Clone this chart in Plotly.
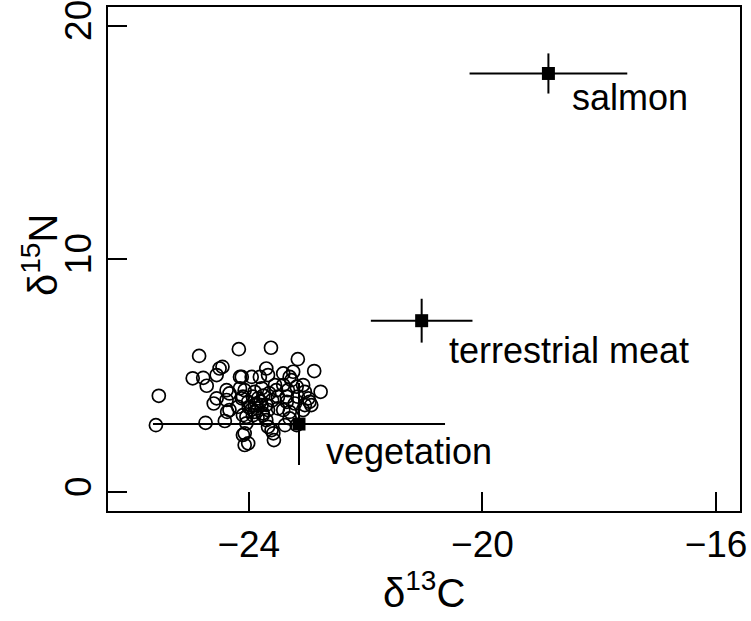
import plotly.graph_objects as go

# Individual consumer isotope values (delta 13C, delta 15N)
consumer_d13c = [
    -24.85, -24.17, -25.54, -25.59, -24.74, -24.96, -24.78, -24.72, -24.55, -24.50,
    -24.45, -24.55, -24.60, -24.38, -24.37, -24.41, -24.15, -24.10, -24.07,
    -23.62, -23.16, -22.88, -22.77, -22.93, -24.12, -23.95, -23.70, -23.67, -23.41,
    -23.24, -23.27, -23.07, -23.04, -23.33, -23.16, -23.21, -23.35, -23.50, -23.50,
    -23.67, -23.84, -23.90, -24.01, -24.12, -24.18, -24.10, -23.93, -23.76, -24.04,
    -24.07, -24.01, -23.67, -23.61, -23.58, -23.57, -23.38, -23.04, -23.30, -22.98,
    -23.41, -23.55, -23.78, -23.90, -24.07, -23.78,
    -23.30, -23.41, -22.96, -23.07, -24.33, -23.87, -23.93, -24.10, -23.76, -24.04,
    -24.15, -23.53, -23.35, -24.33, -24.38, -23.18, -23.81, -23.70, -23.30, -23.18,
    -23.85, -23.95, -23.80, -23.70, -23.90, -23.75, -23.60, -23.65, -24.00, -23.85,
]
consumer_d15n = [
    5.85, 6.14, 4.14, 2.88, 2.98, 4.89, 4.91, 4.57, 5.03, 5.31,
    5.38, 4.03, 3.81, 4.38, 3.45, 3.06, 4.95, 2.46, 2.03,
    6.20, 5.71, 5.20, 4.31, 3.74, 4.95, 4.95, 5.31, 5.03, 5.10,
    5.17, 4.81, 4.60, 4.31, 4.38, 4.10, 3.81, 3.88, 4.10, 3.60,
    3.53, 4.03, 3.74, 3.88, 4.03, 3.67, 3.31, 3.31, 3.31, 2.96,
    2.53, 2.10, 2.81, 2.67, 2.53, 2.24, 2.88, 3.74, 3.45, 4.03,
    4.60, 4.60, 4.46, 4.31, 4.38, 3.74,
    4.95, 3.53, 3.88, 3.53, 3.53, 3.81, 4.10, 4.10, 3.39, 3.24,
    4.46, 4.38, 4.10, 4.24, 3.96, 4.53, 4.95, 3.10, 3.17, 2.88,
    3.60, 3.55, 3.90, 3.75, 3.45, 4.15, 3.95, 4.25, 3.65, 3.20,
]

# Food sources: mean and standard deviation
source_names = ["salmon", "terrestrial meat", "vegetation"]
source_d13c = [-18.87, -21.04, -23.14]
source_d13c_sd = [1.35, 0.87, 2.50]
source_d15n = [17.96, 7.36, 2.93]
source_d15n_sd = [0.86, 0.94, 1.76]

# label offsets (px) from each source mark
label_dx = [22, 25, 25]
label_dy = [-24, -30, -27]

FONT = "Liberation Sans, Arial, Helvetica, sans-serif"

fig = go.Figure()

fig.add_trace(go.Scatter(
    x=consumer_d13c, y=consumer_d15n, mode="markers",
    marker=dict(symbol="circle-open", size=13, color="black",
                line=dict(width=1.7, color="black")),
    showlegend=False, hoverinfo="skip",
))

fig.add_trace(go.Scatter(
    x=source_d13c, y=source_d15n, mode="markers",
    marker=dict(symbol="square", size=13, color="black"),
    error_x=dict(type="data", array=source_d13c_sd, width=0, thickness=2, color="black"),
    error_y=dict(type="data", array=source_d15n_sd, width=0, thickness=2, color="black"),
    showlegend=False, hoverinfo="skip",
))

for name, x, y, dx, dy in zip(source_names, source_d13c, source_d15n, label_dx, label_dy):
    fig.add_annotation(x=x, y=y, xref="x", yref="y", text=name, showarrow=False,
                       xanchor="left", yanchor="middle", xshift=dx, yshift=dy,
                       font=dict(family=FONT, size=36, color="black"))

# axis titles
fig.add_annotation(x=0.5, y=0, xref="paper", yref="paper", text="δ<sup>13</sup>C",
                   showarrow=False, xanchor="center", yanchor="middle", yshift=-79,
                   font=dict(family=FONT, size=40, color="black"))
fig.add_annotation(x=0, y=0.508, xref="paper", yref="paper", text="δ<sup>15</sup>N",
                   showarrow=False, textangle=-90, xanchor="center", yanchor="middle",
                   xshift=-68, font=dict(family=FONT, size=40, color="black"))

axis_common = dict(
    showgrid=False, zeroline=False, showline=True, linecolor="black", linewidth=1.5,
    mirror=True, ticks="inside", ticklen=19, tickwidth=1.5, tickcolor="black",
    tickfont=dict(family=FONT, size=37, color="black"), automargin=False,
    ticklabeloverflow="allow",
)

fig.update_xaxes(range=[-26.41, -15.59], tickvals=[-24, -20, -16], **axis_common)
fig.update_yaxes(range=[-0.80, 20.81], tickvals=[0, 10, 20], tickangle=-90, **axis_common)

fig.update_layout(
    width=751, height=621,
    margin=dict(l=108, r=11, t=7, b=110),
    paper_bgcolor="white", plot_bgcolor="white",
    font=dict(family=FONT, color="black"),
)

fig.write_html("out.html")
